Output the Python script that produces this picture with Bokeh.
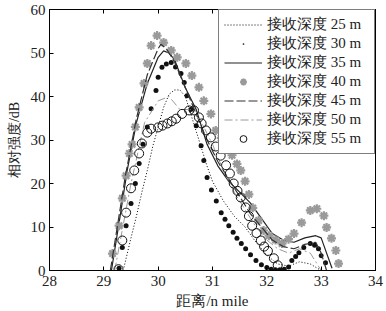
from bokeh.plotting import figure
from bokeh.models import LinearAxis, FixedTicker, Range1d
from bokeh.embed import file_html
from bokeh.resources import INLINE

# 25 m (dotted line)
d25 = [29.37, 29.5, 29.6, 29.7, 29.8, 29.9, 30.0, 30.1, 30.2, 30.3, 30.4, 30.5, 30.6, 30.7, 30.8,
       30.9, 31.0, 31.2, 31.4, 31.6, 31.8, 32.0, 32.2, 32.4, 32.6, 32.8, 33.0]
v25 = [0.7, 7.5, 12.5, 18, 23, 28.5, 33, 37.5, 40.5, 41.5, 41.5, 40, 36, 32, 28,
       24, 20.5, 16, 12.5, 10, 6.5, 3.5, 1.5, 1, 2, 1.5, 0]

# 30 m (black dots)
d30 = [29.28, 29.34, 29.41, 29.5, 29.58, 29.65, 29.72, 29.8, 29.87, 29.96, 30.0, 30.07, 30.15, 30.24,
       30.32, 30.42, 30.48, 30.53, 30.6, 30.7, 30.79, 30.84, 30.9, 30.98, 31.07, 31.16, 31.23, 31.3,
       31.38, 31.45, 31.53, 31.61, 31.7, 31.8, 31.9, 32.0, 32.08, 32.16, 32.24, 32.32, 32.4, 32.46,
       32.53, 32.59, 32.68, 32.8, 32.88, 32.95, 33.0, 33.08]
v30 = [0.5, 5.3, 10.3, 15.4, 20, 24.6, 29, 33, 37.2, 41.4, 44.4, 46.7, 47.5, 47.8,
       46.8, 45.3, 43.2, 40.2, 37, 33.3, 28.7, 25.3, 21.4, 18.5, 16, 13.3, 11.8, 10.3,
       8.8, 7.4, 6.2, 5, 3.6, 2.3, 1.3, 0.7, 0.3, 0.2, 0.2, 0.3, 0.8, 2.3,
       3.2, 4.1, 5.3, 6.2, 5.8, 5, 3.4, 1.8]

# 35 m (solid line)
d35 = [29.14, 29.3, 29.43, 29.6, 29.8, 30.0, 30.1, 30.2, 30.3, 30.5, 30.7, 30.9, 31.1, 31.3, 31.5,
       31.7, 31.9, 32.1, 32.3, 32.5, 32.7, 32.9, 33.0, 33.1, 33.2]
v35 = [0, 12.5, 23, 34, 43, 49, 50.5, 50, 48.5, 42, 37, 29, 24, 20.5, 18,
       15.5, 12, 8.5, 7, 6.5, 7.5, 8, 7.5, 4, 0.5]

# 40 m (grey asterisks)
d40 = [29.16, 29.28, 29.34, 29.41, 29.47, 29.52, 29.58, 29.65, 29.74, 29.8, 29.87, 29.98, 30.1, 30.24,
       30.35, 30.51, 30.62, 30.75, 30.84, 30.97, 31.06, 31.16, 31.27, 31.36, 31.45, 31.52, 31.6, 31.67,
       31.74, 31.85, 31.94, 32.04, 32.16, 32.28, 32.4, 32.5, 32.64, 32.8, 32.92, 33.05, 33.1, 33.19,
       33.27, 33.32]
v40 = [3.9, 10.3, 16.6, 21.8, 26.9, 29, 33, 37.5, 43, 47.6, 51.7, 54, 52.4, 50.6,
       49, 47.6, 44.8, 42.1, 39, 36, 32.2, 30.5, 29.2, 26.5, 24.5, 23, 20.5, 17.5,
       14.4, 11.5, 9.2, 8, 7, 6.2, 7.2, 8.5, 11, 13.8, 14.2, 12.6, 9.9, 7.4,
       4.6, 1.6]

# 45 m (dashed line)
d45 = [29.12, 29.4, 29.6, 29.8, 30.0, 30.05, 30.15, 30.3, 30.5, 30.7, 30.9, 31.1, 31.3, 31.5, 31.7,
       31.9, 32.1, 32.3, 32.5, 32.7, 32.9, 33.0, 33.1]
v45 = [0, 22, 35, 45, 51, 52, 51, 48, 42, 36, 30, 25, 21, 17, 13,
       10, 7, 5.5, 5, 6, 6.5, 4, 0]

# 50 m (dash-dot line)
d50 = [29.2, 29.5, 29.75, 30.0, 30.2, 30.4, 30.6, 30.8, 31.0, 31.2, 31.4, 31.6, 31.8, 32.0, 32.2,
       32.4, 32.6, 32.8, 33.0]
v50 = [0, 20, 34, 39, 40, 37, 37, 34, 29, 23, 18, 14, 10, 7, 5,
       4, 5, 4, 0]

# 55 m (open circles)
d55 = [29.27, 29.34, 29.41, 29.5, 29.56, 29.65, 29.7, 29.8, 29.87, 30.0, 30.08, 30.17, 30.25, 30.33,
       30.44, 30.57, 30.66, 30.75, 30.8, 30.88, 30.97, 31.06, 31.15, 31.25, 31.32, 31.39, 31.46, 31.52,
       31.61, 31.67, 31.73, 31.81, 31.89, 31.95, 32.02, 32.13, 32.2]
v55 = [0.3, 6.9, 13.3, 18.9, 23, 26.9, 29.2, 31.7, 32.6, 32.9, 33.3, 33.8, 34.3, 34.9,
       36, 36.8, 36.8, 35.2, 33.8, 32.2, 30.6, 28.5, 26.4, 24.2, 22.3, 20, 18.3, 16.8,
       14.5, 12.5, 10.3, 8.6, 6.9, 5.5, 4.5, 2.8, 1.2]

x_ticks = [28, 29, 30, 31, 32, 33, 34]
y_ticks = [0, 10, 20, 30, 40, 50, 60]
labels = ["接收深度 25 m", "接收深度 30 m", "接收深度 35 m", "接收深度 40 m",
          "接收深度 45 m", "接收深度 50 m", "接收深度 55 m"]

p = figure(width=385, height=311, output_backend="svg", toolbar_location=None,
           x_range=Range1d(28, 34), y_range=Range1d(0, 60),
           min_border_left=49, min_border_right=10, min_border_top=9, min_border_bottom=10)
p.background_fill_color = "white"
p.border_fill_color = "white"
p.outline_line_color = "black"
p.outline_line_width = 1
p.xgrid.visible = False
p.ygrid.visible = False

for ax, ticks in ((p.xaxis[0], x_ticks), (p.yaxis[0], y_ticks)):
    ax.ticker = FixedTicker(ticks=ticks)
    ax.major_tick_in = 4
    ax.major_tick_out = 0
    ax.minor_tick_line_color = None
    ax.axis_line_color = "black"
    ax.major_label_text_font = "Liberation Serif"
    ax.major_label_text_font_size = "15px"
    ax.major_label_text_color = "#222222"
    ax.axis_label_text_font = "Liberation Serif"
    ax.axis_label_text_font_style = "normal"
    ax.axis_label_text_color = "#222222"

p.xaxis[0].axis_label = "距离/n mile"
p.xaxis[0].axis_label_text_font_size = "15px"
p.xaxis[0].axis_label_standoff = 4
p.xaxis[0].major_label_standoff = 5
p.yaxis[0].axis_label = "相对强度/dB"
p.yaxis[0].axis_label_text_font_size = "14px"
p.yaxis[0].axis_label_standoff = 6
p.yaxis[0].major_label_standoff = 4

top = LinearAxis(ticker=FixedTicker(ticks=x_ticks), major_tick_in=4, major_tick_out=0,
                 minor_tick_line_color=None, major_label_standoff=0, axis_line_color="black",
                 major_label_overrides={t: "" for t in x_ticks})
right = LinearAxis(ticker=FixedTicker(ticks=y_ticks), major_tick_in=4, major_tick_out=0,
                   minor_tick_line_color=None, major_label_standoff=0, axis_line_color="black",
                   major_label_overrides={t: "" for t in y_ticks})
p.add_layout(top, "above")
p.add_layout(right, "right")

p.line(d25, v25, line_color="black", line_width=1, line_dash="1 2", legend_label=labels[0])
p.scatter(d30, v30, marker="dot", size=20, fill_color="#111111", line_color="#111111",
          line_width=1.5, legend_label=labels[1])
p.line(d35, v35, line_color="#222222", line_width=1.2, legend_label=labels[2])
p.scatter(d40, v40, marker="asterisk", size=9, line_color="#9a9a9a", line_width=2.2,
          legend_label=labels[3])
p.line(d45, v45, line_color="#333333", line_width=1.2, line_dash="9 3", legend_label=labels[4])
p.line(d50, v50, line_color="#9a9a9a", line_width=1, line_dash="8 3 2 3", legend_label=labels[5])
p.scatter(d55, v55, marker="circle", size=9, fill_color=None, line_color="#111111",
          line_width=1, legend_label=labels[6])

lg = p.legend[0]
lg.location = "top_right"
lg.margin = 0
lg.padding = 5
lg.spacing = 0
lg.label_height = 17
lg.glyph_height = 17
lg.glyph_width = 38
lg.label_standoff = 5
lg.label_width = 102
lg.label_text_font = "Liberation Serif"
lg.label_text_font_size = "15px"
lg.label_text_color = "#222222"
lg.border_line_color = "black"
lg.border_line_width = 1
lg.background_fill_color = "white"
lg.background_fill_alpha = 1

open("out.html", "w").write(file_html(p, INLINE))
